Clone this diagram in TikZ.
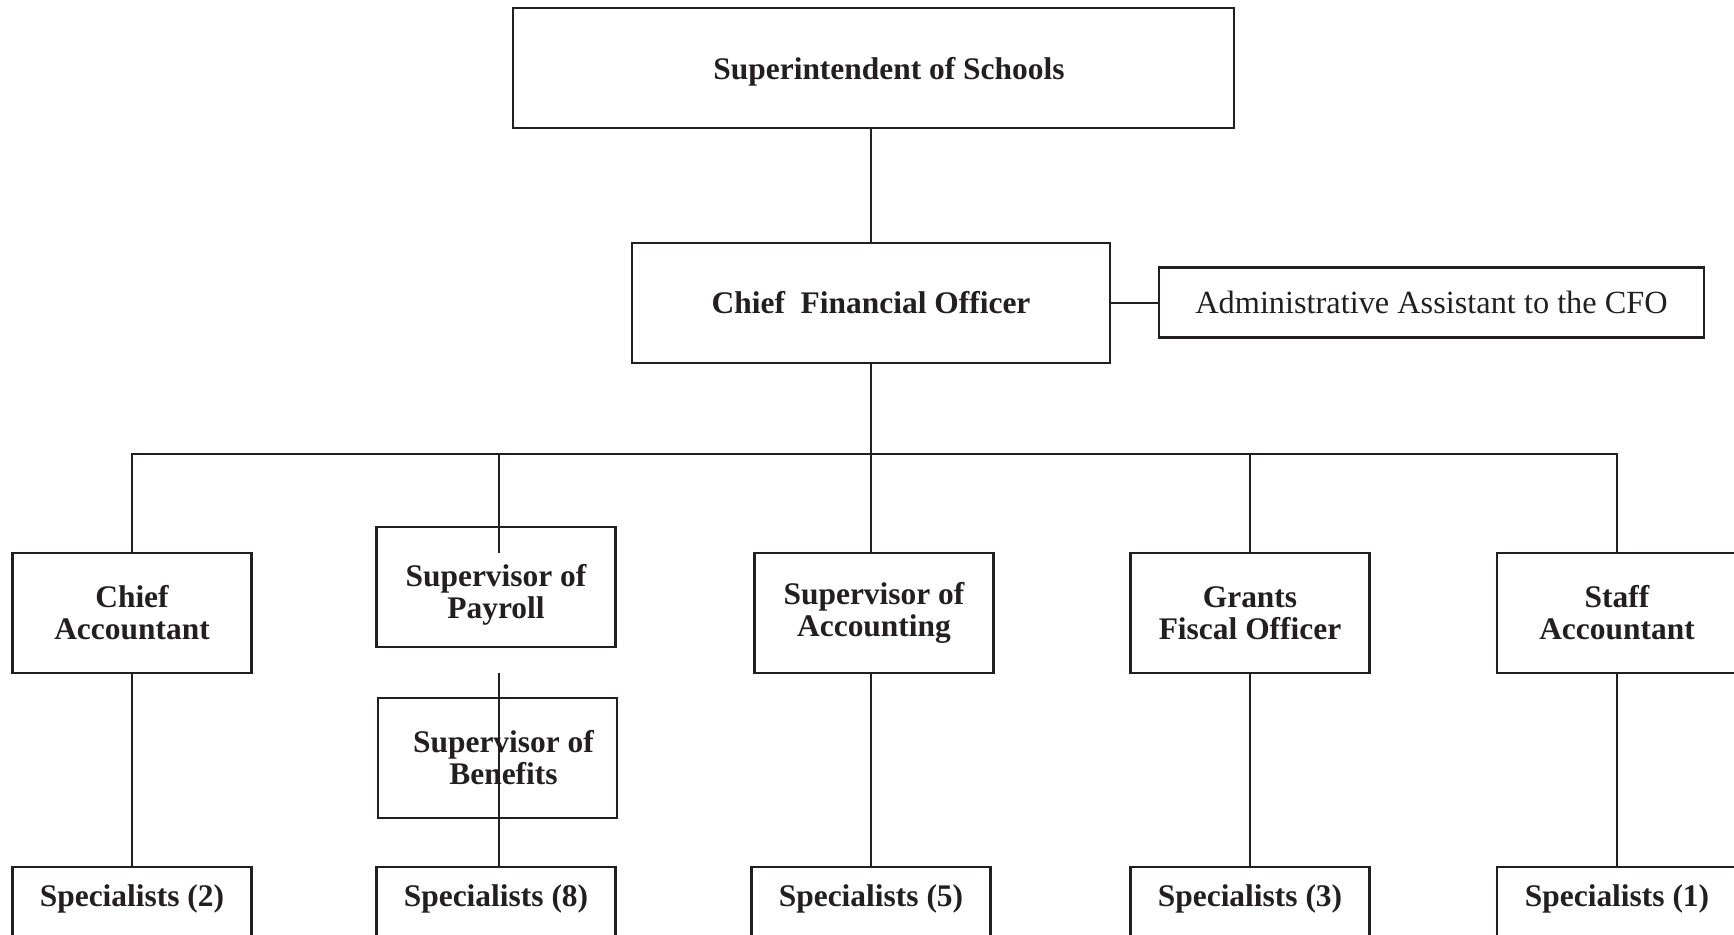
\documentclass[tikz,border=0pt]{standalone}
\usepackage{fontspec}
\setmainfont{Liberation Serif}
\definecolor{ink}{RGB}{35,31,32}
\begin{document}
\begin{tikzpicture}[x=0.02cm,y=-0.02cm,
  box/.style={draw=ink, line width=1.3pt, inner sep=0pt, align=center, text=ink,
    minimum width=4.78cm, minimum height=2.4cm,
    font=\bfseries\fontsize{17.9}{18.2}\selectfont},
  specbox/.style={box, anchor=north, minimum height=0pt, text height=0.78cm, text depth=1.2cm},
  conn/.style={draw=ink, line width=1pt}]
\useasboundingbox (0,0) rectangle (1734,934);
\clip (0,0) rectangle (1734,934);
% top levels
\node[box, minimum width=14.42cm, text depth=0pt] (sup) at (873.5,68) {\hspace*{0.62cm}Superintendent of Schools};
\node[box, minimum width=9.56cm] (cfo) at (871,303) {Chief~ Financial Officer};
\node[box, minimum width=10.9cm, minimum height=1.4cm,
      font=\fontsize{18.4}{18.4}\selectfont] (adm) at (1431.5,302.5) {Administrative Assistant to the CFO};
% second level
\node[box] (ca)  at (132,613)  {Chief\\Accountant};
\node[box] (pay) at (496,587)  {\rule{0pt}{0.77cm}Supervisor of\\Payroll};
\node[box] (ben) at (497.5,758) {\hspace*{0.24cm}Supervisor of\\\hspace*{0.24cm}Benefits};
\node[box] (acc) at (874,613)  {Supervisor of\\Accounting};
\node[box] (gfo) at (1250,613) {Grants\\Fiscal Officer};
\node[box, minimum width=4.8cm] (sa) at (1617,613) {Staff\\Accountant};
% specialists
\node[specbox] (s2) at (132,866)  {Specialists (2)};
\node[specbox] (s8) at (496,866)  {Specialists (8)};
\node[specbox] (s5) at (871,866)  {Specialists (5)};
\node[specbox] (s3) at (1250,866) {Specialists (3)};
\node[specbox, minimum width=4.8cm] (s1) at (1617,866) {Specialists (1)};
% connectors
\coordinate (bus)  at (871,454);
\coordinate (busR) at (1617,454);
\coordinate (payA) at (499,454);
\coordinate (payB) at (499,553);
\coordinate (benA) at (499,673);
\draw[conn] (cfo.north |- sup.south) -- (cfo.north);
\draw[conn] (cfo.east) -- (cfo.east -| adm.west);
\draw[conn] (cfo.south) -- (bus);
\draw[conn] (ca.north) |- (busR) -- (sa.north);
\draw[conn] (payA) -- (payB);
\draw[conn] (bus) -- (bus |- acc.north);
\draw[conn] (gfo.north |- bus) -- (gfo.north);
\draw[conn] (ca.south) -- (s2.north);
\draw[conn] (benA) -- (benA |- s8.north);
\draw[conn] (bus |- acc.south) -- (s5.north);
\draw[conn] (gfo.south) -- (s3.north);
\draw[conn] (sa.south) -- (s1.north);
\end{tikzpicture}
\end{document}
